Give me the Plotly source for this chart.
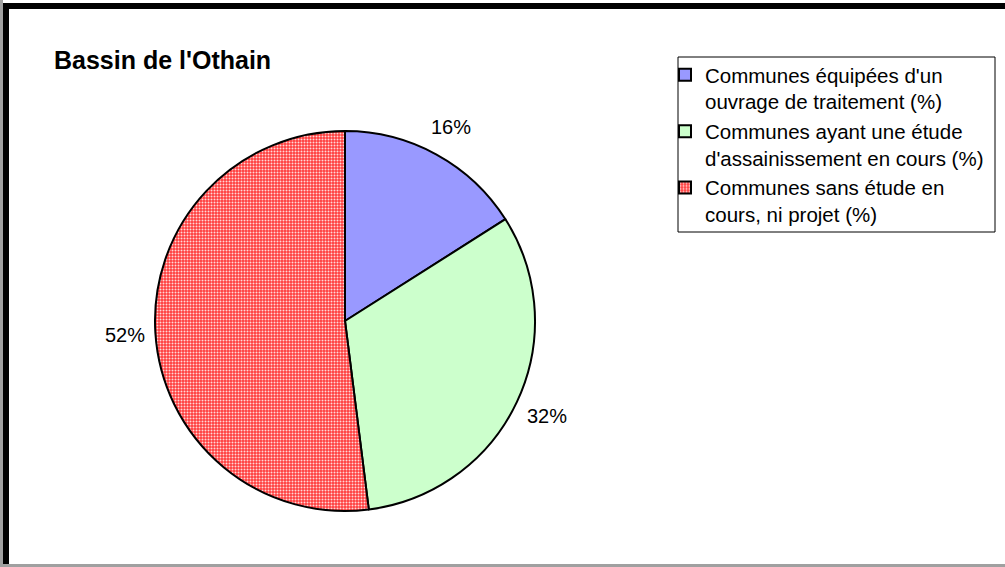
import math
import plotly.graph_objects as go

W, H = 1005, 567

categories = [
    "Communes équipées d'un<br>ouvrage de traitement (%)",
    "Communes ayant une étude<br>d'assainissement en cours (%)",
    "Communes sans étude en<br>cours, ni projet (%)",
]
values = [16, 32, 52]
colors = ["#9999FF", "#CCFFCC", "#FF4848"]

FONT = "Liberation Sans, Arial"

# pie geometry in pixels
CX, CY, R = 345, 321, 190


def px(x):
    return x / W


def py(y):
    return 1 - y / H


fig = go.Figure(
    go.Pie(
        labels=categories,
        values=values,
        sort=False,
        direction="clockwise",
        rotation=0,
        textinfo="none",
        marker=dict(
            colors=colors,
            line=dict(color="black", width=2),
            pattern=dict(
                shape=["", "", "."],
                bgcolor=["#9999FF", "#CCFFCC", "#FF3C3C"],
                fgcolor=["#9999FF", "#CCFFCC", "#FFD8D8"],
                size=3,
                solidity=0.35,
            ),
        ),
        domain=dict(x=[px(CX - R), px(CX + R)], y=[py(CY + R), py(CY - R)]),
        hoverinfo="skip",
    )
)

# percentage labels just outside each slice, at its mid-angle
annotations = []
total = sum(values)
cum = 0
for v in values:
    mid = (cum + v / 2) / total * 2 * math.pi
    cum += v
    dx, dy = math.sin(mid), -math.cos(mid)
    txt = f"{v}%"
    hw, hh = 20, 13
    r = R + 10 + abs(dx) * hw + abs(dy) * hh
    annotations.append(dict(
        x=px(CX + dx * r), y=py(CY + dy * r), xref="paper", yref="paper",
        text=txt, showarrow=False, xanchor="center", yanchor="middle",
        font=dict(family=FONT, size=20, color="black"),
    ))

shapes = [
    # outer frame of the chart area
    dict(type="rect", xref="paper", yref="paper", x0=0, x1=px(3), y0=0, y1=1,
         fillcolor="#A0A0A0", line=dict(width=0), layer="above"),
    dict(type="line", xref="paper", yref="paper", x0=0, x1=1, y0=1.5 / H, y1=1.5 / H,
         line=dict(color="#A0A0A0", width=3), layer="above"),
    dict(type="line", xref="paper", yref="paper", x0=px(6), x1=px(6), y0=3 / H, y1=py(3),
         line=dict(color="black", width=6), layer="above"),
    dict(type="line", xref="paper", yref="paper", x0=px(3), x1=1, y0=py(6), y1=py(6),
         line=dict(color="black", width=6), layer="above"),
    # legend frame
    dict(type="rect", xref="paper", yref="paper", x0=px(678), x1=px(995),
         y0=py(232), y1=py(57), line=dict(color="black", width=1), layer="below"),
]

fig.update_layout(
    width=W,
    height=H,
    margin=dict(l=0, r=0, t=0, b=0),
    paper_bgcolor="white",
    plot_bgcolor="white",
    font=dict(family=FONT, size=20, color="black"),
    title=dict(
        text="<b>Bassin de l'Othain</b>",
        x=px(54), xanchor="left",
        y=py(60), yanchor="middle",
        font=dict(family=FONT, size=25, color="black"),
    ),
    legend=dict(
        x=px(665), xanchor="left",
        y=py(55), yanchor="top",
        borderwidth=0,
        bgcolor="rgba(0,0,0,0)",
        font=dict(family=FONT, size=20.5, color="black"),
        itemwidth=30,
        valign="top",
    ),
    annotations=annotations,
    shapes=shapes,
)

fig.write_html("out.html")
